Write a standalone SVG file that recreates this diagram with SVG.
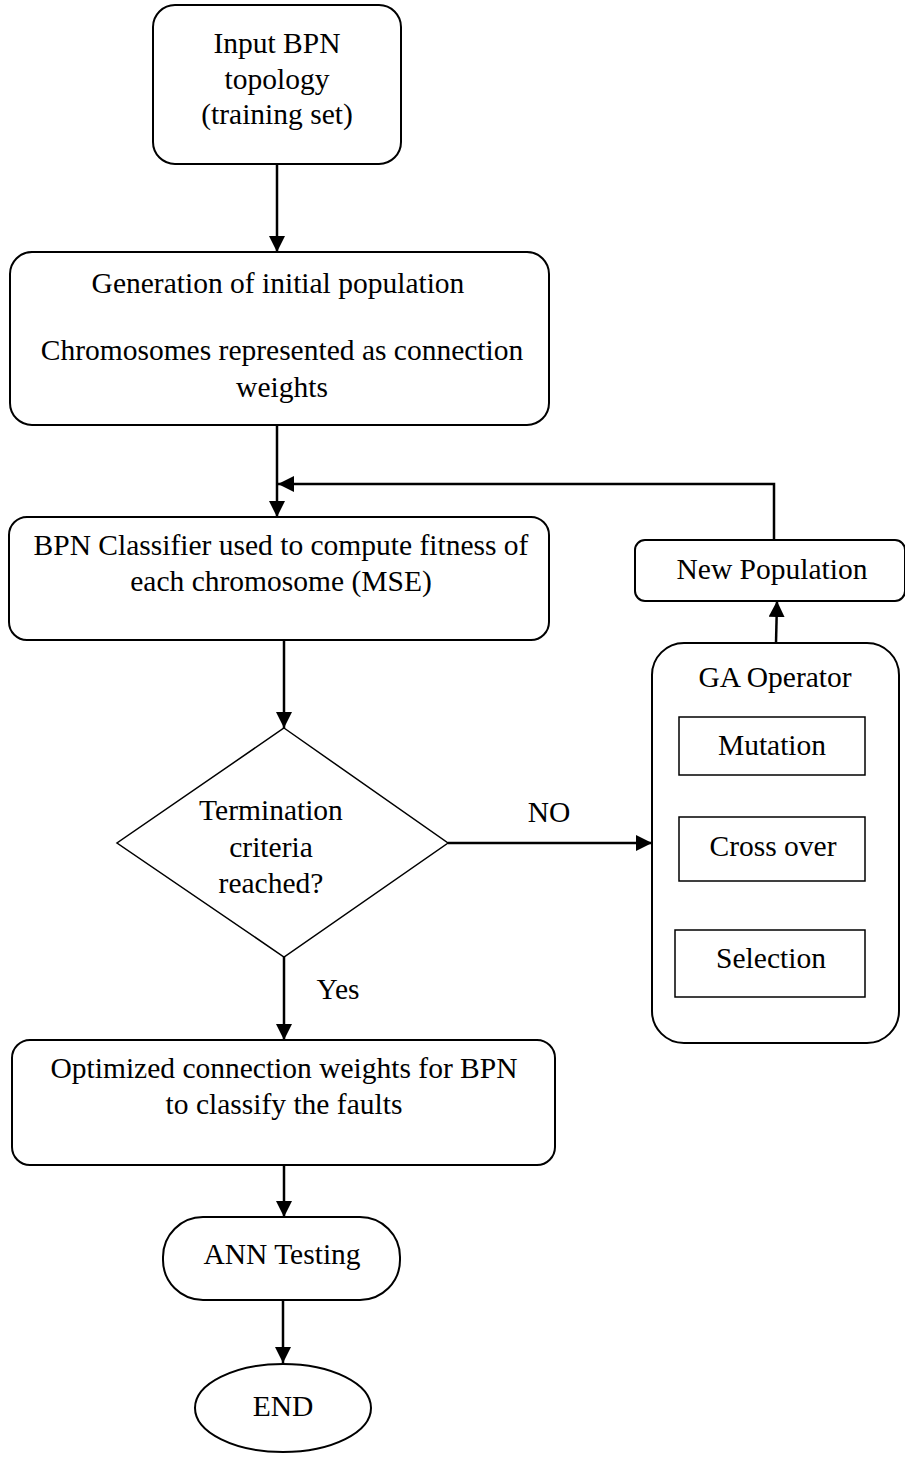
<svg xmlns="http://www.w3.org/2000/svg" width="905" height="1461" viewBox="0 0 905 1461">
<defs>
<marker id="ah" viewBox="0 0 10 10" refX="10" refY="5" markerWidth="16" markerHeight="16" markerUnits="userSpaceOnUse" orient="auto">
<path d="M0,0 L10,5 L0,10 z" fill="#000"/>
</marker>
<style>
.box{fill:#fff;stroke:#000;stroke-width:2}
.thin{fill:#fff;stroke:#000;stroke-width:1.5}
.t{font-family:"Liberation Serif","Times New Roman",serif;font-size:29.5px;fill:#000;text-anchor:middle}
.c{stroke:#000;stroke-width:2.5;fill:none}
.c2{stroke:#000;stroke-width:1.5;fill:none}
</style>
</defs>
<rect width="905" height="1461" fill="#fff"/>
<g id="connectors">
<line class="c" x1="277" y1="164" x2="277" y2="252" marker-end="url(#ah)"/>
<line class="c" x1="277" y1="425" x2="277" y2="517" marker-end="url(#ah)"/>
<polyline class="c" points="774,540 774,484 278,484" marker-end="url(#ah)"/>
<line class="c" x1="776" y1="643" x2="777" y2="601" marker-end="url(#ah)"/>
<line class="c" x1="284" y1="640" x2="284" y2="728" marker-end="url(#ah)"/>
<line class="c" x1="448" y1="843" x2="652" y2="843" marker-end="url(#ah)"/>
<line class="c" x1="284" y1="957" x2="284" y2="1040" marker-end="url(#ah)"/>
<line class="c" x1="284" y1="1165" x2="284" y2="1217" marker-end="url(#ah)"/>
<line class="c" x1="283" y1="1300" x2="283" y2="1363" marker-end="url(#ah)"/>
<line class="c2" x1="772" y1="775" x2="772" y2="817"/>
<line class="c2" x1="772" y1="881" x2="772" y2="930"/>
<text class="t" x="549" y="822">NO</text>
<text class="t" x="338" y="999">Yes</text>
</g>
<g id="input">
<rect class="box" x="153" y="5" width="248" height="159" rx="22"/>
<text class="t" x="277" y="53">Input BPN</text>
<text class="t" x="277" y="89">topology</text>
<text class="t" x="277" y="124">(training set)</text>
</g>
<g id="generation">
<rect class="box" x="10" y="252" width="539" height="173" rx="22"/>
<text class="t" x="278" y="293">Generation of initial population</text>
<text class="t" x="282" y="360">Chromosomes represented as connection</text>
<text class="t" x="282" y="397">weights</text>
</g>
<g id="classifier">
<rect class="box" x="9" y="517" width="540" height="123" rx="18"/>
<text class="t" x="281" y="555">BPN Classifier used to compute fitness of</text>
<text class="t" x="281" y="591">each chromosome (MSE)</text>
</g>
<g id="newpop">
<rect class="box" x="635" y="540" width="270" height="61" rx="10"/>
<text class="t" x="772" y="579">New Population</text>
</g>
<g id="gaop">
<rect class="box" x="652" y="643" width="247" height="400" rx="32"/>
<text class="t" x="775" y="687">GA Operator</text>
</g>
<g id="mutation">
<rect class="thin" x="679" y="717" width="186" height="58"/>
<text class="t" x="772" y="755">Mutation</text>
</g>
<g id="crossover">
<rect class="thin" x="679" y="817" width="186" height="64"/>
<text class="t" x="773" y="856">Cross over</text>
</g>
<g id="selection">
<rect class="thin" x="675" y="930" width="190" height="67"/>
<text class="t" x="771" y="968">Selection</text>
</g>
<g id="decision">
<polygon class="c2" fill="#fff" points="284,728 448,843 284,957 117,843"/>
<text class="t" x="271" y="820">Termination</text>
<text class="t" x="271" y="857">criteria</text>
<text class="t" x="271" y="893">reached?</text>
</g>
<g id="optimized">
<rect class="box" x="12" y="1040" width="543" height="125" rx="18"/>
<text class="t" x="284" y="1078">Optimized connection weights for BPN</text>
<text class="t" x="284" y="1114">to classify the faults</text>
</g>
<g id="anntest">
<rect class="box" x="163" y="1217" width="237" height="83" rx="40"/>
<text class="t" x="282" y="1264">ANN Testing</text>
</g>
<g id="end">
<ellipse class="box" cx="283" cy="1408" rx="88" ry="44"/>
<text class="t" x="283" y="1416">END</text>
</g>
</svg>
